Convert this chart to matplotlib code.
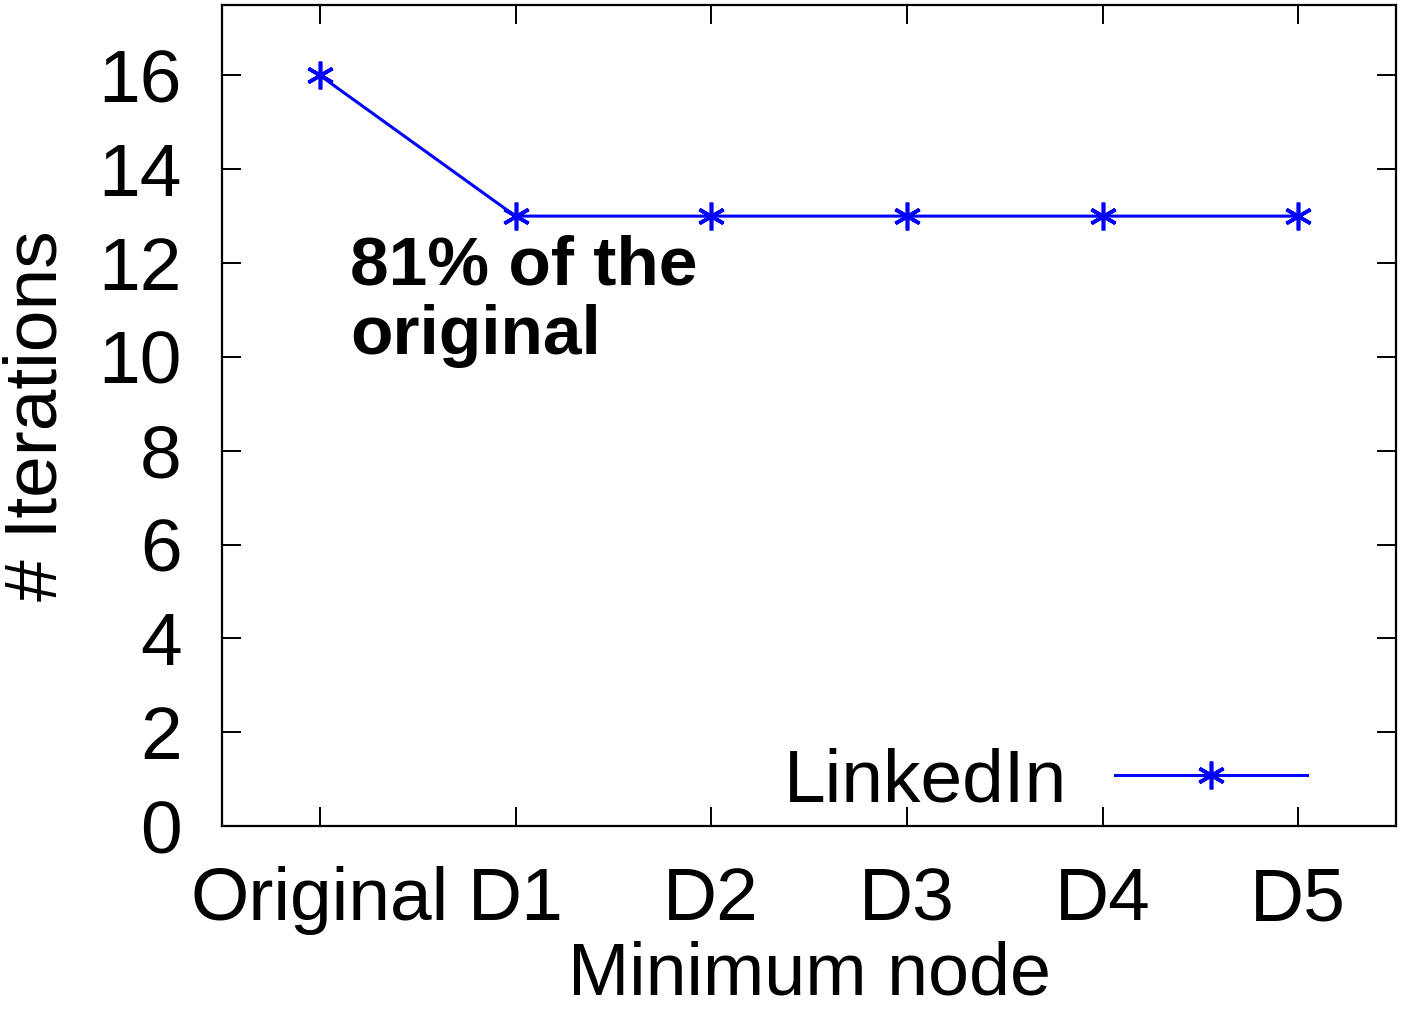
import matplotlib.pyplot as plt
import numpy as np

plt.rcParams.update({'font.family': 'Liberation Sans'})

categories = ['Original', 'D1', 'D2', 'D3', 'D4', 'D5']
iterations = [16, 13, 13, 13, 13, 13]
y_ticks = [0, 2, 4, 6, 8, 10, 12, 14, 16]

fig = plt.figure(figsize=(14.01, 10.09), dpi=100)
ax = fig.add_axes([222 / 1401, 1 - 826 / 1009, (1396 - 222) / 1401, (826 - 5) / 1009])

x = np.arange(len(categories))
ax.plot(x, iterations, color='#0000ff', lw=2.2, marker=(6, 2, 0), ms=20, mew=2.6,
        label='LinkedIn')

ax.set_xlim(-0.5, 5.5)
ax.set_ylim(0, 17.5)
ax.set_xticks(x)
ax.set_xticklabels(categories)
ax.set_yticks(y_ticks)
ax.tick_params(direction='in', length=14, width=1.4, labelsize=54,
               top=True, right=True)
ax.tick_params(axis='y', pad=29)
ax.tick_params(axis='x', pad=29)
for s in ax.spines.values():
    s.set_linewidth(1.6)

ax.set_xlabel('Minimum node', fontsize=53)
ax.xaxis.set_label_coords(0.5, -0.14)
ax.set_ylabel('# Iterations', fontsize=54)
ax.yaxis.set_label_coords(-0.128, 0.5)

ax.text(0.153, 12.61, '81% of the\noriginal', fontsize=50, fontweight='bold',
        va='top', ha='left', linespacing=1.12)

ax.legend(loc='center right', frameon=False, markerfirst=False, fontsize=54,
          handlelength=2.56, borderaxespad=0, borderpad=0, handletextpad=0.63,
          bbox_to_anchor=(0.924, 0.0535))

fig.savefig('out.png', dpi=100)
